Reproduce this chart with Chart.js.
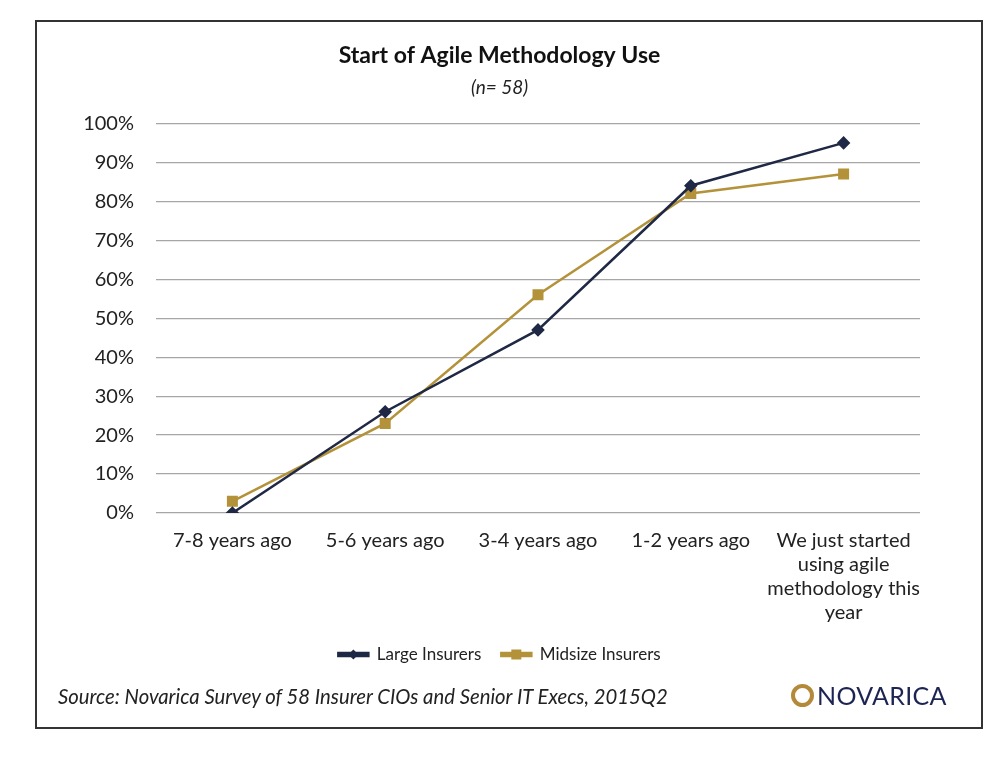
<!DOCTYPE html>
<html>
<head>
<meta charset="utf-8">
<script src="https://cdn.jsdelivr.net/npm/chart.js@4.4.0/dist/chart.umd.min.js"></script>
<style>
	body { margin: 0; background: #fff; }
	#wrap { position: relative; width: 999px; height: 759px; }
	#frame { position: absolute; left: 35px; top: 20px; width: 944px; height: 705px; border: 2px solid #333; }
	#source { position: absolute; left: 58px; top: 684px; font-family: "Lato", sans-serif; font-style: italic; font-size: 20.3px; color: #222; }
	#logo { position: absolute; left: 791px; top: 680px; font-family: "Lato", sans-serif; font-size: 25px; color: #1b2452; letter-spacing: 0.3px; }
	#logo .ring { display: inline-block; width: 15px; height: 15px; border: 4px solid #b5893a; border-radius: 50%; vertical-align: -2px; margin-right: 3px; }
	canvas { position: absolute; left: 0; top: 0; }
</style>
</head>
<body>
<div id="wrap">
	<div id="frame"></div>
	<canvas id="chart" width="999" height="759"></canvas>
	<div id="source">Source: Novarica Survey of 58 Insurer CIOs and Senior IT Execs, 2015Q2</div>
	<div id="logo"><span class="ring"></span>NOVARICA</div>
</div>
<script>
const categories = [
	"7-8 years ago",
	"5-6 years ago",
	"3-4 years ago",
	"1-2 years ago",
	["We just started", "using agile", "methodology this", "year"],
];
const largeInsurers = [0, 26, 47, 84, 95];
const midsizeInsurers = [3, 23, 56, 82, 87];
const yTicks = [0, 10, 20, 30, 40, 50, 60, 70, 80, 90, 100];

const navy = "#1f2844";
const gold = "#b3923a";
const font = "Lato, sans-serif";

// draw a marker over the legend boxes so they look like line + marker
const legendMarkers = {
	id: "legendMarkers",
	afterDraw(chart) {
		const legend = chart.legend;
		if (!legend || !legend.legendHitBoxes) return;
		const ctx = chart.ctx;
		legend.legendHitBoxes.forEach((box, i) => {
			const ds = chart.data.datasets[i];
			const cx = box.left + 15;
			const cy = box.top + box.height / 2;
			ctx.save();
			ctx.fillStyle = ds.borderColor;
			ctx.beginPath();
			if (ds.pointStyle === "rectRot") {
				ctx.moveTo(cx, cy - 5);
				ctx.lineTo(cx + 5, cy);
				ctx.lineTo(cx, cy + 5);
				ctx.lineTo(cx - 5, cy);
			} else {
				ctx.rect(cx - 5, cy - 5, 10, 10);
			}
			ctx.fill();
			ctx.restore();
		});
	},
};

new Chart(document.getElementById("chart"), {
	type: "line",
	data: {
		labels: categories,
		datasets: [
			{
				label: "Large Insurers",
				data: largeInsurers,
				borderColor: navy,
				backgroundColor: navy,
				borderWidth: 2.5,
				pointStyle: "rectRot",
				pointRadius: 5,
				tension: 0,
			},
			{
				label: "Midsize Insurers",
				data: midsizeInsurers,
				borderColor: gold,
				backgroundColor: gold,
				borderWidth: 2.5,
				pointStyle: "rect",
				pointRadius: 6,
				tension: 0,
			},
		],
	},
	options: {
		responsive: false,
		animation: false,
		layout: { padding: { left: 79, right: 79, top: 42, bottom: 86 } },
		plugins: {
			title: {
				display: true,
				text: "Start of Agile Methodology Use",
				color: "#111",
				font: { family: font, size: 23, weight: "bold" },
				padding: { top: 0, bottom: 7 },
			},
			subtitle: {
				display: true,
				text: "(n= 58)",
				color: "#222",
				font: { family: font, size: 19, style: "italic" },
				padding: { top: 0, bottom: 24 },
			},
			legend: {
				position: "bottom",
				labels: {
					boxWidth: 30,
					boxHeight: 3,
					color: "#222",
					font: { family: font, size: 17 },
					padding: 20,
				},
			},
			tooltip: { enabled: false },
		},
		scales: {
			x: {
				offset: true,
				grid: { display: false },
				border: { display: false },
				ticks: {
					color: "#222",
					font: { family: font, size: 20 },
					maxRotation: 0,
					autoSkip: false,
					padding: 8,
				},
				afterFit(scale) { scale.height = 113; },
			},
			y: {
				min: 0,
				max: 100,
				afterBuildTicks(scale) { scale.ticks = yTicks.map(v => ({ value: v })); },
				grid: { color: "#a6a6a6", lineWidth: 1.2, drawTicks: false },
				border: { display: false },
				ticks: {
					color: "#222",
					font: { family: font, size: 20 },
					padding: 22,
					callback: v => v + "%",
				},
				afterFit(scale) { scale.width = 77; },
			},
		},
	},
	plugins: [legendMarkers],
});
</script>
</body>
</html>
